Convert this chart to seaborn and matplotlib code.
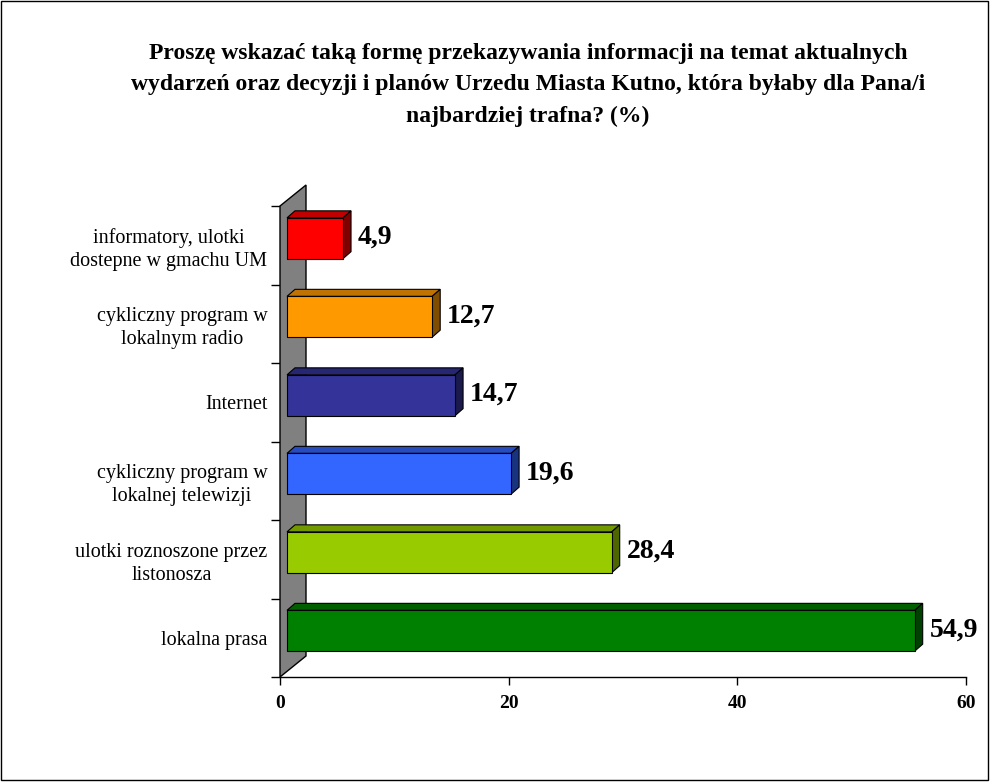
import matplotlib
matplotlib.use("Agg")
import matplotlib.pyplot as plt
import seaborn as sns
import numpy as np
import pandas as pd
from matplotlib.patches import Polygon, Rectangle
from matplotlib.transforms import ScaledTranslation

categories = ["informatory, ulotki\ndostepne w gmachu UM",
              "cykliczny program w\nlokalnym radio",
              "Internet",
              "cykliczny program w\nlokalnej telewizji",
              "ulotki roznoszone przez\nlistonosza",
              "lokalna prasa"]
values = [4.9, 12.7, 14.7, 19.6, 28.4, 54.9]
value_labels = ["4,9", "12,7", "14,7", "19,6", "28,4", "54,9"]
front_colors = ["#FF0000", "#FF9900", "#333399", "#3366FF", "#99CC00", "#008000"]
top_colors = ["#C00000", "#C07300", "#262673", "#264CBF", "#739900", "#006000"]
side_colors = ["#800000", "#804C00", "#1A1A4D", "#1A3380", "#4D6600", "#004000"]
x_ticks = [0, 20, 40, 60]
title = ("Proszę wskazać taką formę przekazywania informacji na temat aktualnych\n"
         "wydarzeń oraz decyzji i planów Urzedu Miasta Kutno, która byłaby dla Pana/i\n"
         "najbardziej trafna? (%)")

sns.set_style("white")
plt.rcParams['font.family'] = ['Liberation Serif', 'DejaVu Serif']
plt.rcParams['text.color'] = 'black'
plt.rcParams['xtick.color'] = 'black'
plt.rcParams['ytick.color'] = 'black'

W, H = 990, 782
DPI = 100
fig = plt.figure(figsize=(W / DPI, H / DPI), dpi=DPI)
ax = fig.add_axes([280 / W, (H - 677) / H, 686 / W, 471 / H])
ax.set_facecolor("none")

df = pd.DataFrame({"cat": categories, "val": values})
sns.barplot(data=df, x="val", y="cat", hue="cat", palette=front_colors,
            orient="h", width=0.52, saturation=1, edgecolor="black",
            linewidth=0.8, legend=False, ax=ax, zorder=4)
ax.set_xlim(0, 60)
ax.set_ylim(5.5, -0.5)

# pixel offsets for 3D look
FDX, FDY = 7, 7     # front face offset from front plane
BDX, BDY = 8, 7     # bar depth
WDX, WDY = 26, 21   # wall depth

to_disp = ax.transData.transform
inv = ax.transData.inverted()

def poly(points_disp, **kw):
    pts = inv.transform(np.array(points_disp))
    p = Polygon(pts, closed=True, clip_on=False, **kw)
    ax.add_patch(p)
    return p

# back wall
x0, yb = to_disp((0, 5.5))
_, yt = to_disp((0, -0.5))
poly([(x0, yb), (x0, yt), (x0 + WDX, yt + WDY), (x0 + WDX, yb + WDY)],
     facecolor="#808080", edgecolor="black", linewidth=1, zorder=1)

off = ScaledTranslation(FDX / DPI, FDY / DPI, fig.dpi_scale_trans)
bars = sorted([p for p in ax.patches if isinstance(p, Rectangle)],
              key=lambda r: r.get_y())
for i, r in enumerate(bars):
    bx0, by0 = r.get_x(), r.get_y()
    bx1, by1 = bx0 + r.get_width(), by0 + r.get_height()
    (dx0, dyA) = to_disp((bx0, by0))
    (dx1, dyB) = to_disp((bx1, by1))
    dx0 += FDX; dx1 += FDX
    dtop = max(dyA, dyB) + FDY
    dbot = min(dyA, dyB) + FDY
    r.set_transform(ax.transData + off)
    r.set_clip_on(False)
    # top face
    poly([(dx0, dtop), (dx1, dtop), (dx1 + BDX, dtop + BDY), (dx0 + BDX, dtop + BDY)],
         facecolor=top_colors[i], edgecolor="black", linewidth=0.8, zorder=3)
    # side face
    poly([(dx1, dbot), (dx1, dtop), (dx1 + BDX, dtop + BDY), (dx1 + BDX, dbot + BDY)],
         facecolor=side_colors[i], edgecolor="black", linewidth=0.8, zorder=3)

# value labels
lab_off = ScaledTranslation(22 / DPI, 8 / DPI, fig.dpi_scale_trans)
for i, (v, t) in enumerate(zip(values, value_labels)):
    ax.text(v, i, t, transform=ax.transData + lab_off, ha="left", va="center",
            fontsize=20, fontweight="bold", color="black", zorder=6, clip_on=False)

# axes styling
for s in ["top", "right", "left"]:
    ax.spines[s].set_visible(False)
ax.spines["bottom"].set_color("black")
ax.spines["bottom"].set_linewidth(1)
ax.spines["bottom"].set_zorder(2)

ax.set_xticks(x_ticks)
ax.set_xticklabels([str(t) for t in x_ticks], fontsize=14, fontweight="bold")
ax.tick_params(axis="x", direction="out", length=6, width=1, color="black", pad=7,
               bottom=True)
ax.set_yticks(np.arange(-0.5, 6.0, 1.0))
ax.set_yticklabels([])
ax.tick_params(axis="y", which="major", direction="out", length=6.5, width=1,
               color="black", left=True)
ax.set_yticks(np.arange(len(categories)), minor=True)
ax.set_yticklabels(categories, minor=True, fontsize=14.5, ha="right",
                   multialignment="center", linespacing=1.3)
ax.tick_params(axis="y", which="minor", length=0, pad=9)
ax.set_xlabel("")
ax.set_ylabel("")
ax.grid(False)

fig.text(528 / W, 1 - 85 / H, title, ha="center", va="center", fontsize=17,
         fontweight="bold", linespacing=1.62, color="black")

fig.patches.append(Rectangle((1 / W, 2 / H), 987 / W, 779 / H, transform=fig.transFigure,
                             fill=False, edgecolor="black", linewidth=1))

fig.savefig("out.png", dpi=DPI, facecolor="white")
